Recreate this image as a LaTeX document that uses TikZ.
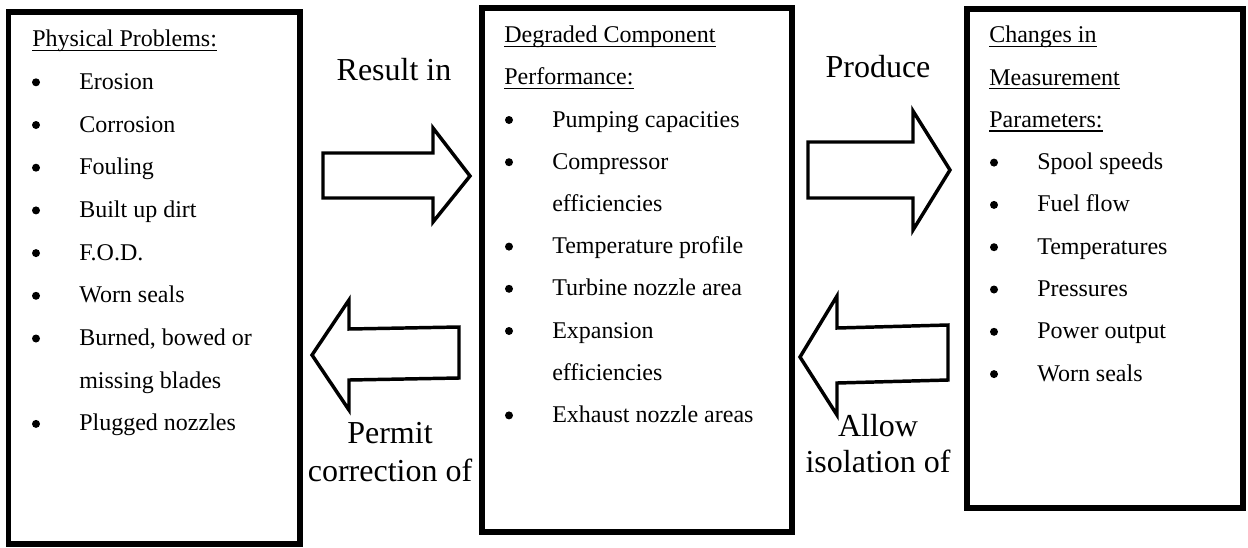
\documentclass[tikz,border=0pt]{standalone}
\usepackage{fontspec}
\setmainfont{Liberation Serif}
\newcommand{\ulinetext}[1]{\setbox0\hbox{#1}\rlap{\rule[-3.2pt]{\wd0}{0.9pt}}\box0}
\begin{document}
\begin{tikzpicture}[x=0.75pt,y=-0.75pt,
  panel/.style={draw=black,line width=3.8pt},
  blockarrow/.style={draw=black,fill=white,line width=2.6pt,line join=miter},
  item/.style={anchor=base west,inner sep=0pt,font=\fontsize{18pt}{20pt}\selectfont},
  dot/.style={circle,fill=black,inner sep=0pt,minimum size=6pt},
  caption/.style={anchor=base,inner sep=0pt,font=\fontsize{24pt}{26pt}\selectfont}]
\useasboundingbox (0,0) rectangle (1248,547);

% three panels
\draw[panel] (8.5,12) rectangle (300,544);
\draw[panel] (482,8) rectangle (792,532);
\draw[panel] (967,9) rectangle (1243,508);

% left panel: physical problems
\node[item] (t1) at (32,46.6) {\ulinetext{Physical Problems:}};
\foreach \txt [count=\i] in {Erosion,Corrosion,Fouling,Built up dirt,F.O.D.,Worn seals,{Burned, bowed or},missing blades,Plugged nozzles}{
  \node[item] (a\i) at (79,{46.6+42.7*\i}) {\txt};
}
\foreach \i in {1,...,7,9}{
  \node[dot] (ab\i) at (36,{46.6+42.7*\i-7}) {};
}

% middle panel: degraded component performance
\node[item] (t2a) at (504,42.6) {\ulinetext{Degraded Component}};
\node[item] (t2b) at (504,84.8) {\ulinetext{Performance:}};
\foreach \txt [count=\i from 2] in {Pumping capacities,Compressor,efficiencies,Temperature profile,Turbine nozzle area,Expansion,efficiencies,Exhaust nozzle areas}{
  \node[item] (b\i) at (552,{42.6+42.2*\i}) {\txt};
}
\foreach \i in {2,3,5,6,7,9}{
  \node[dot] (bb\i) at (509,{42.6+42.2*\i-7}) {};
}

% right panel: measurement parameters
\node[item] (t3a) at (989,42.7) {\ulinetext{Changes in}};
\node[item] (t3b) at (989,85.0) {\ulinetext{Measurement}};
\node[item] (t3c) at (989,127.3) {\ulinetext{Parameters:}};
\foreach \txt [count=\i from 3] in {Spool speeds,Fuel flow,Temperatures,Pressures,Power output,Worn seals}{
  \node[item] (c\i) at (1037,{42.7+42.3*\i}) {\txt};
  \node[dot] (cb\i) at (994,{42.7+42.3*\i-7}) {};
}

% block arrows between the panels
\draw[blockarrow] (323,153) -- (433,153) -- (433,128) -- (470,176) -- (433,222) -- (433,198) -- (323,198) -- cycle;
\draw[blockarrow] (459,327) -- (349,329) -- (349,300) -- (312,355) -- (349,410) -- (349,380) -- (459,378) -- cycle;
\draw[blockarrow] (808,142) -- (913,142) -- (913,111) -- (950,170) -- (913,230) -- (913,198) -- (808,198) -- cycle;
\draw[blockarrow] (948,325) -- (837,328) -- (837,296) -- (800,357) -- (837,415) -- (837,383) -- (948,380) -- cycle;

% arrow captions
\node[caption] (l1) at (394,80) {Result in};
\node[caption] (l2) at (878,77) {Produce};
\node[caption] (l3a) at (390,443) {Permit};
\node[caption] (l3b) at (390,481) {correction of};
\node[caption] (l4a) at (878,436) {Allow};
\node[caption] (l4b) at (878,472) {isolation of};
\end{tikzpicture}
\end{document}
